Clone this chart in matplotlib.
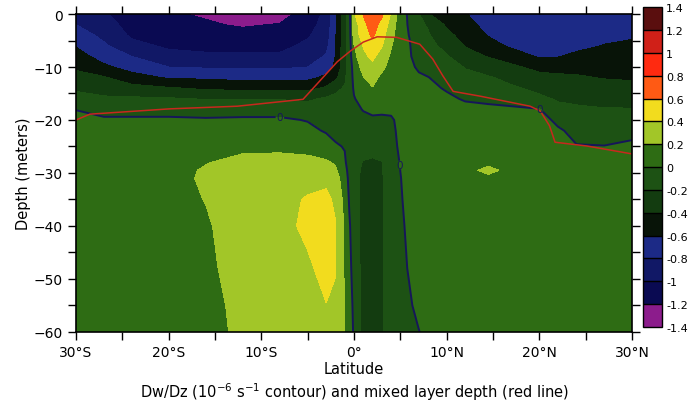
import matplotlib
matplotlib.use("Agg")
import matplotlib.pyplot as plt
import numpy as np

# latitude nodes (deg, negative = south) and depth nodes (m)
lat = [-30, -27, -24, -20, -16, -12, -8, -5, -3, -2, -1, -0.5, 0, 1, 2, 3, 4, 5,
       6, 7, 8, 10, 12, 14.5, 17, 20, 22, 24, 27, 30]
depth = [0, -2, -4, -6, -8, -10, -12, -14, -16, -18, -20, -22, -25, -28, -29.5,
         -31, -35, -40, -48, -55, -60]

# Dw/Dz (1e-6 s-1), one profile per latitude node
dwdz_profiles = [
    [-0.88, -0.80, -0.70, -0.61, -0.52, -0.43, -0.34, -0.23, -0.13, -0.005, 0.06, 0.08, 0.1, 0.1, 0.1, 0.1, 0.1, 0.1, 0.1, 0.1, 0.1],
    [-0.98, -0.92, -0.85, -0.77, -0.68, -0.56, -0.38, -0.28, -0.17, -0.07, 0.03, 0.07, 0.1, 0.11, 0.11, 0.11, 0.11, 0.11, 0.11, 0.11, 0.11],
    [-1.1, -1.07, -1.03, -0.94, -0.80, -0.68, -0.52, -0.33, -0.17, -0.07, 0.03, 0.07, 0.1, 0.12, 0.12, 0.12, 0.12, 0.12, 0.12, 0.12, 0.12],
    [-1.18, -1.15, -1.10, -1.03, -0.94, -0.80, -0.62, -0.38, -0.18, -0.07, 0.03, 0.08, 0.1, 0.12, 0.13, 0.13, 0.14, 0.14, 0.14, 0.15, 0.15],
    [-1.22, -1.18, -1.13, -1.06, -0.96, -0.82, -0.63, -0.43, -0.21, -0.08, 0.02, 0.08, 0.13, 0.19, 0.22, 0.23, 0.205, 0.18, 0.16, 0.13, 0.12],
    [-1.33, -1.22, -1.14, -1.06, -0.97, -0.83, -0.66, -0.45, -0.21, -0.08, 0.03, 0.09, 0.15, 0.26, 0.28, 0.29, 0.29, 0.29, 0.28, 0.26, 0.25],
    [-1.27, -1.19, -1.12, -1.05, -0.97, -0.83, -0.66, -0.45, -0.21, -0.08, 0.03, 0.09, 0.16, 0.26, 0.29, 0.31, 0.33, 0.34, 0.33, 0.32, 0.3],
    [-1.12, -1.07, -1.02, -0.96, -0.9, -0.8, -0.65, -0.45, -0.23, -0.12, -0.01, 0.05, 0.14, 0.25, 0.29, 0.33, 0.42, 0.44, 0.37, 0.33, 0.31],
    [-0.95, -0.93, -0.9, -0.85, -0.78, -0.68, -0.56, -0.37, -0.17, -0.12, -0.07, -0.02, 0.1, 0.22, 0.27, 0.36, 0.44, 0.47, 0.46, 0.395, 0.36],
    [-0.63, -0.63, -0.62, -0.61, -0.595, -0.57, -0.45, -0.25, -0.15, -0.12, -0.09, -0.05, 0.02, 0.18, 0.23, 0.28, 0.37, 0.41, 0.41, 0.37, 0.35],
    [-0.26, -0.26, -0.26, -0.26, -0.26, -0.26, -0.24, -0.18, -0.14, -0.12, -0.1, -0.08, -0.01, 0.025, 0.06, 0.1, 0.14, 0.17, 0.18, 0.19, 0.19],
    [-0.067, -0.07, -0.08, -0.08, -0.08, -0.08, -0.085, -0.09, -0.1, -0.12, -0.12, -0.12, -0.1, -0.08, -0.06, -0.05, -0.02, 0.019, 0.047, 0.078, 0.12],
    [0.378, 0.3, 0.28, 0.19, 0.13, 0.06, 0.04, 0.02, -0.01, -0.05, -0.08, -0.1, -0.12, -0.13, -0.13, -0.13, -0.12, -0.1, -0.07, -0.04, -0.03],
    [0.61, 0.532, 0.5, 0.41, 0.36, 0.28, 0.19, 0.12, 0.06, 0.01, -0.05, -0.08, -0.13, -0.21, -0.235, -0.245, -0.25, -0.26, -0.27, -0.28, -0.29],
    [0.76, 0.72, 0.63, 0.52, 0.44, 0.35, 0.27, 0.19, 0.12, 0.04, -0.03, -0.09, -0.15, -0.22, -0.24, -0.25, -0.26, -0.27, -0.27, -0.27, -0.27],
    [0.64, 0.52, 0.47, 0.41, 0.32, 0.25, 0.153, 0.1, 0.06, 0.03, -0.03, -0.08, -0.14, -0.205, -0.21, -0.22, -0.22, -0.22, -0.22, -0.22, -0.22],
    [0.38, 0.335, 0.28, 0.215, 0.17, 0.12, 0.1, 0.09, 0.07, 0.03, -0.02, -0.05, -0.08, -0.1, -0.1, -0.1, -0.1, -0.1, -0.1, -0.1, -0.1],
    [0.08, 0.065, 0.05, 0.06, 0.07, 0.08, 0.08, 0.08, 0.07, 0.06, 0.04, 0.05, 0.04, 0.011, 0.001, -0.006, -0.015, -0.03, -0.05, -0.07, -0.08],
    [-0.034, -0.02, -0.005, 0.01, 0.02, 0.04, 0.06, 0.07, 0.08, 0.08, 0.08, 0.08, 0.08, 0.075, 0.07, 0.065, 0.05, 0.037, 0.017, -0.02, -0.04],
    [-0.19, -0.16, -0.13, -0.11, -0.09, -0.03, 0.03, 0.06, 0.08, 0.09, 0.09, 0.09, 0.09, 0.08, 0.08, 0.08, 0.07, 0.06, 0.05, 0.047, -0.005],
    [-0.39, -0.22, -0.18, -0.14, -0.1, -0.06, 0.005, 0.05, 0.08, 0.09, 0.09, 0.09, 0.09, 0.09, 0.09, 0.09, 0.09, 0.09, 0.09, 0.08, 0.05],
    [-0.5, -0.43, -0.35, -0.26, -0.18, -0.12, -0.07, -0.02, 0.04, 0.08, 0.1, 0.11, 0.12, 0.12, 0.12, 0.12, 0.12, 0.12, 0.12, 0.12, 0.12],
    [-0.59, -0.54, -0.47, -0.41, -0.33, -0.21, -0.15, -0.09, -0.02, 0.06, 0.1, 0.12, 0.13, 0.14, 0.14, 0.14, 0.14, 0.13, 0.13, 0.13, 0.13],
    [-0.7, -0.66, -0.61, -0.53, -0.41, -0.3, -0.18, -0.11, -0.04, 0.04, 0.1, 0.12, 0.14, 0.15, 0.25, 0.15, 0.14, 0.13, 0.13, 0.13, 0.13],
    [-0.76, -0.74, -0.7, -0.63, -0.5, -0.36, -0.26, -0.17, -0.07, 0.03, 0.1, 0.12, 0.13, 0.14, 0.14, 0.14, 0.14, 0.14, 0.14, 0.14, 0.14],
    [-0.78, -0.77, -0.75, -0.7, -0.62, -0.46, -0.34, -0.25, -0.16, 0.01, 0.09, 0.12, 0.14, 0.14, 0.14, 0.14, 0.14, 0.14, 0.14, 0.14, 0.14],
    [-0.78, -0.77, -0.75, -0.7, -0.61, -0.47, -0.36, -0.29, -0.22, -0.15, -0.05, 0.03, 0.1, 0.13, 0.14, 0.14, 0.14, 0.14, 0.14, 0.14, 0.14],
    [-0.77, -0.76, -0.73, -0.66, -0.55, -0.45, -0.38, -0.31, -0.24, -0.17, -0.11, -0.06, 0.01, 0.08, 0.1, 0.12, 0.13, 0.14, 0.14, 0.14, 0.14],
    [-0.72, -0.7, -0.66, -0.59, -0.52, -0.46, -0.41, -0.33, -0.26, -0.19, -0.13, -0.08, 0.005, 0.07, 0.1, 0.12, 0.13, 0.14, 0.14, 0.14, 0.14],
    [-0.68, -0.66, -0.62, -0.57, -0.51, -0.46, -0.42, -0.35, -0.27, -0.19, -0.13, -0.06, 0.04, 0.08, 0.1, 0.11, 0.12, 0.13, 0.13, 0.13, 0.13],
]

# mixed layer depth (red line)
mld_lat = [-30, -28.5, -19.9, -12.6, -5.5, -1.8, -0.4, 1.0, 2.5, 4.6, 7.1, 8.5,
           9.6, 10.7, 13.6, 19.0, 20.1, 21.1, 21.7, 25.1, 30]
mld_depth = [-20, -18.9, -17.9, -17.4, -16.1, -9.0, -7.0, -5.3, -4.3, -4.4, -5.7,
             -8.5, -11.7, -14.6, -15.5, -17.4, -18.3, -21.1, -24.2, -24.9, -26.4]

levels = [-1.4, -1.2, -1.0, -0.8, -0.6, -0.4, -0.2, 0, 0.2, 0.4, 0.6, 0.8, 1.0, 1.2, 1.4]
level_labels = ['-1.4', '-1.2', '-1', '-0.8', '-0.6', '-0.4', '-0.2', '0',
                '0.2', '0.4', '0.6', '0.8', '1', '1.2', '1.4']
fill_colors = ['#8c1c8c', '#0a0a52', '#111866', '#1c2a86', '#081408', '#133c10',
               '#1d5214', '#2e6c14', '#a2c628', '#f2dc1e', '#ff5a14', '#ff2a10',
               '#d02018', '#5a0e0e']

lat_ticks = [-30, -20, -10, 0, 10, 20, 30]
lat_labels = ['30°S', '20°S', '10°S', '0°', '10°N', '20°N', '30°N']

Z = np.array(dwdz_profiles).T

fig = plt.figure(figsize=(6.91, 4.06), dpi=100)
ax = fig.add_axes([0.110, 0.180, 0.8046, 0.783])

cf = ax.contourf(lat, depth, Z, levels=levels, colors=fill_colors)
cs = ax.contour(lat, depth, Z, levels=[0], colors='#16165a', linewidths=1.4)
zero_labels = ax.clabel(cs, fmt='0', fontsize=7.5, inline=True, inline_spacing=1,
                        manual=[(-8, -19.2), (4.9, -28.5), (20.1, -17.6)])
for t in zero_labels:
    t.set_rotation(0)

ax.plot(mld_lat, mld_depth, color='#c8281e', linewidth=1.1)

ax.set_xlim(-30, 30)
ax.set_ylim(-60, 0)
ax.set_xticks(lat_ticks)
ax.set_xticklabels(lat_labels)
ax.set_xticks(np.arange(-25, 30, 10), minor=True)
ax.set_yticks(np.arange(-60, 1, 10))
ax.set_yticks(np.arange(-55, 0, 10), minor=True)
ax.tick_params(which='both', direction='out', length=6, width=1,
               top=True, right=True, labelsize=10, colors='black')
for s in ax.spines.values():
    s.set_linewidth(1.2)

ax.set_xlabel('Latitude', fontsize=10.5, labelpad=1)
ax.set_ylabel('Depth (meters)', fontsize=10.5, labelpad=2)
ax.text(0.5, -0.185, r'Dw/Dz (10$^{-6}$ s$^{-1}$ contour) and mixed layer depth (red line)',
        transform=ax.transAxes, ha='center', va='center', fontsize=10.5)

cax = fig.add_axes([0.9305, 0.192, 0.0275, 0.788])
cb = fig.colorbar(cf, cax=cax, ticks=levels, drawedges=True)
cb.ax.set_yticklabels(level_labels)
cb.ax.tick_params(length=0, labelsize=8, pad=3)
cb.outline.set_linewidth(1)
cb.dividers.set_linewidth(1)

fig.savefig('out.png', dpi=100)
